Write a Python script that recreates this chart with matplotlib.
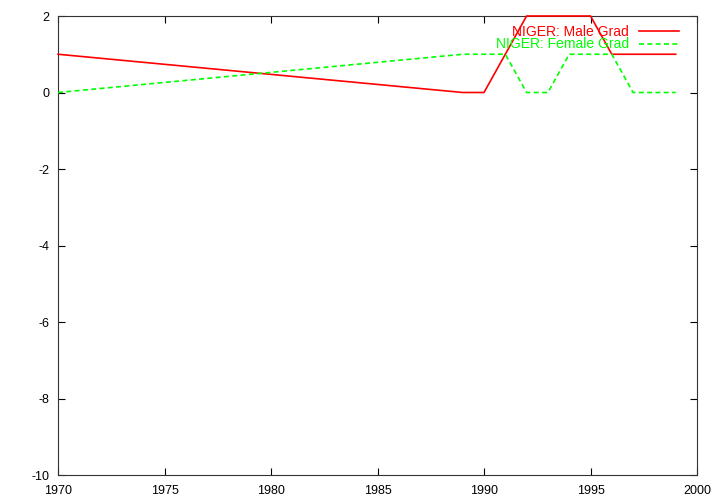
import matplotlib
matplotlib.use('Agg')

from matplotlib import pyplot as plt

years_male = [1970, 1989, 1990, 1992, 1995, 1996, 1999]
male_grad = [1, 0, 0, 2, 2, 1, 1]

years_female = [1970, 1989, 1991, 1992, 1993, 1994, 1996, 1997, 1999]
female_grad = [0, 1, 1, 0, 0, 1, 1, 0, 0]

plt.rcParams['font.family'] = ['Liberation Sans', 'DejaVu Sans']
plt.rcParams['font.size'] = 9
plt.rcParams['axes.unicode_minus'] = False

fig = plt.figure(figsize=(7.2, 5.04), dpi=100)
ax = fig.add_axes([58 / 720, 29 / 504, 639 / 720, 459 / 504])

ax.plot(years_male, male_grad, color='#ff0000', lw=1.2, label='NIGER: Male Grad',
        clip_on=False, zorder=3)
ax.plot(years_female, female_grad, color='#00ff00', lw=1.2, dashes=(3, 2),
        label='NIGER: Female Grad', clip_on=False, zorder=3)

ax.set_xlim(1970, 2000)
ax.set_ylim(-10, 2)
ax.set_xticks(range(1970, 2001, 5))
ax.set_yticks(range(-10, 3, 2))
ax.tick_params(direction='in', top=True, right=True, length=5, width=0.8)
ax.tick_params(axis='x', pad=7)
ax.tick_params(axis='y', pad=6)
for s in ax.spines.values():
    s.set_linewidth(0.8)
    s.set_color('#333333')

ax.legend(loc='upper right', frameon=False, markerfirst=False, labelcolor='linecolor',
          handlelength=2.9, handletextpad=0.7, labelspacing=-0.1,
          borderaxespad=0.9, fontsize=10, bbox_to_anchor=(1.0, 1.02))

plt.savefig('out.png')
